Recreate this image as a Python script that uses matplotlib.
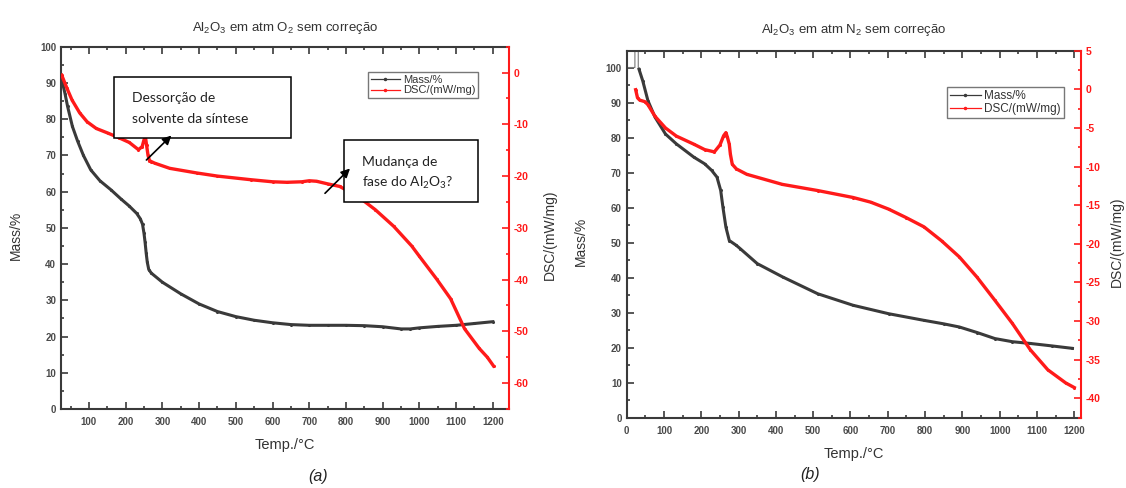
import matplotlib
matplotlib.use('Agg')
import matplotlib.pyplot as plt
from matplotlib.lines import Line2D
from matplotlib.patches import Rectangle, FancyArrowPatch
from matplotlib.ticker import MultipleLocator

plt.rcParams['font.family'] = ['Liberation Sans', 'DejaVu Sans']
plt.rcParams['mathtext.default'] = 'regular'
plt.rcParams['axes.unicode_minus'] = False

# (a) Al2O3 em O2
temp_a_mass = [26, 35, 42, 55, 69, 85, 105, 130, 160, 187, 210, 230, 240, 246, 250, 253, 256, 259, 263,
               270, 300, 350, 400, 450, 500, 550, 600, 650, 700, 750, 800, 850, 900, 950, 975, 1000,
               1050, 1100, 1150, 1200]
mass_a = [91, 87, 83.5, 78, 74, 70, 66, 63, 60.5, 58, 56, 54, 52.5, 51, 48.5, 46, 43, 40.5, 38.5,
          37.5, 35, 31.8, 29, 26.9, 25.5, 24.5, 23.8, 23.3, 23.1, 23.1, 23.1, 23.0, 22.7, 22.1, 22.1, 22.4,
          22.8, 23.1, 23.6, 24.1]
temp_a_dsc = [26, 40, 54, 75, 95, 120, 152, 182, 210, 235, 245, 250, 254, 257, 261, 265, 270, 279, 320,
              394, 450, 541, 600, 639, 680, 700, 720, 750, 783, 832, 880, 930, 979, 1000, 1047, 1085,
              1123, 1163, 1185, 1202]
dsc_a = [-0.5, -3, -5.3, -7.8, -9.5, -10.8, -11.7, -12.6, -13.5, -14.9, -14.3, -13.0, -12.5, -14, -16, -17,
         -17.2, -17.5, -18.5, -19.4, -20.0, -20.7, -21.1, -21.2, -21.1, -20.9, -21.0, -21.5, -22, -23.9,
         -26.5, -29.7, -33.5, -35.5, -39.9, -43.7, -49.5, -53.3, -55, -56.7]

# (b) Al2O3 em N2
temp_b_mass = [0, 22, 22, 31, 31, 33, 43, 57, 76, 104, 133, 180, 209, 228, 242, 252, 258, 266, 275, 294,
               304, 350, 418, 512, 607, 702, 797, 850, 892, 940, 987, 1034, 1082, 1140, 1195]
mass_b = [100, 100, 120, 120, 100, 99.5, 96.2, 90.5, 85.8, 81, 78.2, 74.4, 72.5, 70.6, 68.7, 64.9, 60.1,
          54.4, 50.6, 49.2, 48.3, 44, 40.2, 35.4, 32.1, 29.7, 27.8, 26.8, 25.9, 24.3, 22.6, 21.7, 21.2,
          20.5, 19.8]
temp_b_dsc = [24, 29, 35, 49, 57, 76, 104, 133, 180, 209, 235, 250, 260, 266, 270, 275, 278, 283, 294,
              322, 417, 512, 607, 654, 702, 749, 797, 844, 892, 939, 987, 1034, 1082, 1129, 1177, 1200]
dsc_b = [-0.05, -1.1, -1.4, -1.6, -2.0, -3.5, -5.0, -6.05, -7.1, -7.8, -8.1, -7.2, -6.0, -5.6, -6.2, -7.1,
         -8.4, -9.7, -10.3, -11.0, -12.3, -13.1, -14.0, -14.6, -15.5, -16.6, -17.8, -19.6, -21.7, -24.3,
         -27.3, -30.3, -33.7, -36.3, -38.0, -38.6]

W, H = 1126, 488
fig = plt.figure(figsize=(W / 100, H / 100), dpi=100)


def fx(px):
    return px / W


def fy(py):
    return 1 - py / H


BLACK = '#3a3a3a'
RED = '#ff1a1a'
TICKC = '#4a4a4a'


def setup(ax, ax2, xlim, ylim, y2lim, y2major, y2minor, xlabel_pad, mass_x, dsc_x):
    ax.set_xlim(*xlim)
    ax.set_ylim(*ylim)
    ax2.set_ylim(*y2lim)
    ax.xaxis.set_major_locator(MultipleLocator(100))
    ax.xaxis.set_minor_locator(MultipleLocator(50))
    ax.yaxis.set_major_locator(MultipleLocator(10))
    ax.yaxis.set_minor_locator(MultipleLocator(5))
    ax2.yaxis.set_major_locator(MultipleLocator(y2major))
    ax2.yaxis.set_minor_locator(MultipleLocator(y2minor))
    ax.tick_params(which='both', direction='in', top=True, right=False, color=BLACK, width=1.2)
    ax.tick_params(which='major', length=5)
    ax.tick_params(which='minor', length=2.5)
    ax.tick_params(labelsize=7, labelcolor=TICKC)
    ax.tick_params(axis='x', pad=6)
    for lab in ax.get_xticklabels() + ax.get_yticklabels():
        lab.set_fontweight('bold')
    ax2.tick_params(which='both', direction='in', color=RED, width=1.2, labelsize=7.5, labelcolor=RED)
    ax2.tick_params(which='major', length=5)
    ax2.tick_params(which='minor', length=2.5)
    for lab in ax2.get_yticklabels():
        lab.set_fontweight('bold')
    for s in ['left', 'bottom', 'top']:
        ax.spines[s].set_color(BLACK)
        ax.spines[s].set_linewidth(1.5)
    ax.spines['right'].set_visible(False)
    for s in ['left', 'bottom', 'top']:
        ax2.spines[s].set_visible(False)
    ax2.spines['right'].set_color(RED)
    ax2.spines['right'].set_linewidth(1.5)
    ax.set_xlabel('Temp./°C', fontsize=10.5, color='#333333', labelpad=xlabel_pad)
    ax.set_ylabel('Mass/%', fontsize=10, color='#333333')
    ax.yaxis.set_label_coords(mass_x, 0.48)
    ax2.set_ylabel('DSC/(mW/mg)', fontsize=10, color='#333333')
    ax2.yaxis.set_label_coords(dsc_x, 0.48)


def legend(ax2, anchor, size):
    handles = [Line2D([], [], color=BLACK, lw=0.9, marker='o', ms=1.5),
               Line2D([], [], color=RED, lw=0.9, marker='o', ms=1.5)]
    leg = ax2.legend(handles, ['Mass/%', 'DSC/(mW/mg)'], loc='upper left', bbox_to_anchor=anchor,
                     fontsize=size, frameon=True, fancybox=False, edgecolor='#555555',
                     borderpad=0.25, handlelength=2.6, handletextpad=0.3, labelspacing=0.05,
                     numpoints=1, borderaxespad=0)
    leg.get_frame().set_linewidth(1.0)
    for t in leg.get_texts():
        t.set_color('#333333')


# ---- panel (a)
ax = fig.add_axes([fx(61), fy(409), fx(509) - fx(61), fy(46.7) - fy(409)])
ax2 = ax.twinx()
ax.plot(temp_a_mass, mass_a, color=BLACK, lw=2.2, marker='o', ms=1.2)
ax2.plot(temp_a_dsc, dsc_a, color=RED, lw=2.4, marker='o', ms=1.2)
setup(ax, ax2, (24, 1244), (0, 100), (-65, 5), 10, 5, 8, -0.085, 1.075)
ax.set_title('Al$_2$O$_3$ em atm O$_2$ sem correção', fontsize=9.5, color='#333333', pad=11)
legend(ax2, (0.685, 0.93), 8)

# ---- panel (b)
bx = fig.add_axes([fx(626.7), fy(417.7), fx(1081) - fx(626.7), fy(50.7) - fy(417.7)])
bx2 = bx.twinx()
bx.plot(temp_b_mass[:6], mass_b[:6], color='#777777', lw=0.8)
bx.plot(temp_b_mass[5:], mass_b[5:], color=BLACK, lw=2.2, marker='o', ms=1.2)
bx2.plot(temp_b_dsc, dsc_b, color=RED, lw=2.4, marker='o', ms=1.2)
setup(bx, bx2, (0, 1218), (0, 104.8), (-42.5, 5), 5, 2.5, 8, -0.085, 1.064)
bx.set_title('Al$_2$O$_3$ em atm N$_2$ sem correção', fontsize=9.5, color='#333333', pad=13)
legend(bx2, (0.705, 0.9), 8.5)

# ---- annotation boxes on panel (a)
for (x0, y0, x1, y1), lines in [((113.6, 76.5, 291, 137.7), ['Dessorção de', 'solvente da síntese']),
                                ((343.6, 140, 478, 201.7), ['Mudança de', 'fase do Al$_2$O$_3$?'])]:
    fig.add_artist(Rectangle((fx(x0), fy(y1)), fx(x1) - fx(x0), fy(y0) - fy(y1),
                             transform=fig.transFigure, facecolor='white', edgecolor='black',
                             lw=1.1, zorder=10))
    ty = y0 + 22
    for ln in lines:
        fig.text(fx(x0 + 18), fy(ty), ln, fontsize=10, color='#222222', va='center', ha='left',
                 family=['Lato', 'DejaVu Sans'], zorder=11)
        ty += 20.5

for (xa, ya), (xb, yb) in [((146.4, 160), (171.4, 135.5)), ((325, 193.3), (350, 168.5))]:
    fig.add_artist(FancyArrowPatch((fx(xa), fy(ya)), (fx(xb), fy(yb)), transform=fig.transFigure,
                                   arrowstyle='-|>', mutation_scale=13, lw=1.2, color='black',
                                   shrinkA=0, shrinkB=0, zorder=12))

fig.text(fx(318), fy(476), '(a)', fontsize=11.5, style='italic', ha='center', va='center', color='#222222')
fig.text(fx(810), fy(475), '(b)', fontsize=11.5, style='italic', ha='center', va='center', color='#222222')

fig.savefig('out.png', dpi=100)
